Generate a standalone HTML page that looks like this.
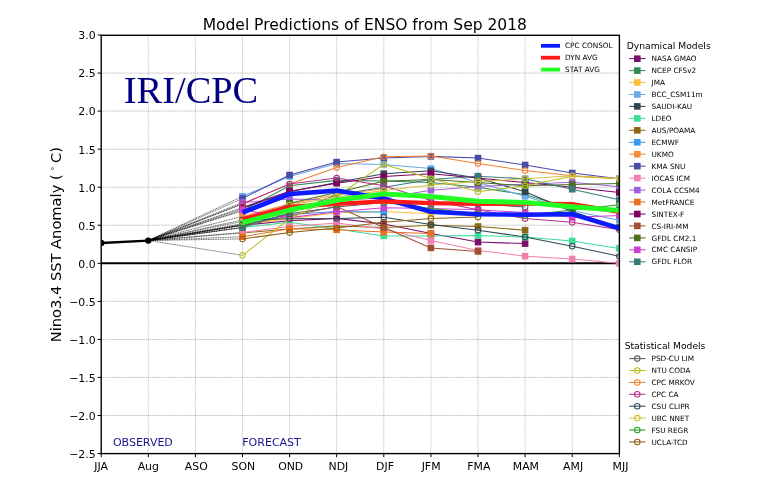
<!DOCTYPE html><html><head><meta charset="utf-8"><title>Model Predictions of ENSO from Sep 2018</title>
<style>html,body{margin:0;padding:0;background:#fff}svg{display:block}text{font-family:"DejaVu Sans","Liberation Sans",sans-serif;fill:#000}.t{font-size:10.9px}.lg{font-size:7.3px}.lt{font-size:9.2px}.nv{fill:#15158f;font-size:11px}</style></head><body>
<svg width="757" height="497" viewBox="0 0 757 497">
<rect width="757" height="497" fill="#fff"/>
<defs><clipPath id="c"><rect x="101.2" y="35.3" width="518.1999999999999" height="418.3"/></clipPath></defs>
<path d="M148.3 35.3V453.6M195.4 35.3V453.6M242.5 35.3V453.6M289.6 35.3V453.6M336.7 35.3V453.6M383.8 35.3V453.6M430.9 35.3V453.6M478.0 35.3V453.6M525.1 35.3V453.6M572.2 35.3V453.6" stroke="#949494" stroke-width="0.45" stroke-dasharray="1.3,0.5" fill="none"/>
<path d="M101.2 415.5H619.4M101.2 377.4H619.4M101.2 339.4H619.4M101.2 301.4H619.4M101.2 225.2H619.4M101.2 187.2H619.4M101.2 149.2H619.4M101.2 111.1H619.4M101.2 73.1H619.4" stroke="#8c8c8c" stroke-width="0.5" stroke-dasharray="1.3,0.5" fill="none"/>
<text x="123.8" y="103.4" style="font-family:'Liberation Serif',serif;font-size:38.4px;fill:#000080">IRI/CPC</text>
<g clip-path="url(#c)">
<path d="M101.2 263.3H619.4" stroke="#000" stroke-width="2.1"/>
<path d="M148.3 240.5L242.5 225.2M148.3 240.5L242.5 210.8M148.3 240.5L242.5 224.5M148.3 240.5L242.5 196.3M148.3 240.5L242.5 208.5M148.3 240.5L242.5 227.5M148.3 240.5L242.5 232.9M148.3 240.5L242.5 225.2M148.3 240.5L242.5 216.3M148.3 240.5L242.5 198.4M148.3 240.5L242.5 232.5M148.3 240.5L242.5 202.4M148.3 240.5L242.5 236.7M148.3 240.5L242.5 207.5M148.3 240.5L242.5 225.2M148.3 240.5L242.5 227.5M148.3 240.5L242.5 210.0M148.3 240.5L242.5 227.5M148.3 240.5L242.5 225.2M148.3 240.5L242.5 255.3M148.3 240.5L242.5 203.9M148.3 240.5L242.5 203.9M148.3 240.5L242.5 219.9M148.3 240.5L242.5 221.4M148.3 240.5L242.5 223.7M148.3 240.5L242.5 238.9" stroke="#000" stroke-width="0.55" stroke-dasharray="1.2,0.5" fill="none"/>
<polyline points="242.5,225.2 289.6,220.7 336.7,218.4 383.8,223.9 430.9,233.6 478.0,242.1 525.1,243.6" fill="none" stroke="#7b0f6e" stroke-width="1.05"/>
<rect x="239.2" y="221.9" width="6.6" height="6.6" fill="#7b0f6e"/>
<rect x="286.3" y="217.4" width="6.6" height="6.6" fill="#7b0f6e"/>
<rect x="333.4" y="215.1" width="6.6" height="6.6" fill="#7b0f6e"/>
<rect x="380.5" y="220.6" width="6.6" height="6.6" fill="#7b0f6e"/>
<rect x="427.6" y="230.3" width="6.6" height="6.6" fill="#7b0f6e"/>
<rect x="474.7" y="238.8" width="6.6" height="6.6" fill="#7b0f6e"/>
<rect x="521.8" y="240.3" width="6.6" height="6.6" fill="#7b0f6e"/>
<polyline points="242.5,210.8 289.6,185.8 336.7,180.4 383.8,181.1 430.9,182.6 478.0,187.2 525.1,194.8 572.2,208.5 619.3,210.0" fill="none" stroke="#2e8b57" stroke-width="1.05"/>
<rect x="239.2" y="207.5" width="6.6" height="6.6" fill="#2e8b57"/>
<rect x="286.3" y="182.5" width="6.6" height="6.6" fill="#2e8b57"/>
<rect x="333.4" y="177.1" width="6.6" height="6.6" fill="#2e8b57"/>
<rect x="380.5" y="177.8" width="6.6" height="6.6" fill="#2e8b57"/>
<rect x="427.6" y="179.3" width="6.6" height="6.6" fill="#2e8b57"/>
<rect x="474.7" y="183.9" width="6.6" height="6.6" fill="#2e8b57"/>
<rect x="521.8" y="191.5" width="6.6" height="6.6" fill="#2e8b57"/>
<rect x="568.9" y="205.2" width="6.6" height="6.6" fill="#2e8b57"/>
<rect x="616.0" y="206.7" width="6.6" height="6.6" fill="#2e8b57"/>
<polyline points="242.5,224.5 289.6,218.8 336.7,212.7 383.8,211.6 430.9,213.7" fill="none" stroke="#fbc13c" stroke-width="1.05"/>
<rect x="239.2" y="221.2" width="6.6" height="6.6" fill="#fbc13c"/>
<rect x="286.3" y="215.5" width="6.6" height="6.6" fill="#fbc13c"/>
<rect x="333.4" y="209.4" width="6.6" height="6.6" fill="#fbc13c"/>
<rect x="380.5" y="208.3" width="6.6" height="6.6" fill="#fbc13c"/>
<rect x="427.6" y="210.4" width="6.6" height="6.6" fill="#fbc13c"/>
<polyline points="242.5,196.3 289.6,176.5 336.7,163.6 383.8,164.4 430.9,168.6 478.0,182.6 525.1,196.3 572.2,210.8 619.3,220.3" fill="none" stroke="#6aa8e8" stroke-width="1.05"/>
<rect x="239.2" y="193.0" width="6.6" height="6.6" fill="#6aa8e8"/>
<rect x="286.3" y="173.2" width="6.6" height="6.6" fill="#6aa8e8"/>
<rect x="333.4" y="160.3" width="6.6" height="6.6" fill="#6aa8e8"/>
<rect x="380.5" y="161.1" width="6.6" height="6.6" fill="#6aa8e8"/>
<rect x="427.6" y="165.3" width="6.6" height="6.6" fill="#6aa8e8"/>
<rect x="474.7" y="179.3" width="6.6" height="6.6" fill="#6aa8e8"/>
<rect x="521.8" y="193.0" width="6.6" height="6.6" fill="#6aa8e8"/>
<rect x="568.9" y="207.5" width="6.6" height="6.6" fill="#6aa8e8"/>
<rect x="616.0" y="217.0" width="6.6" height="6.6" fill="#6aa8e8"/>
<polyline points="242.5,208.5 289.6,191.8 336.7,182.6 383.8,173.7 430.9,170.8 478.0,178.1 525.1,191.8 572.2,211.6 619.3,227.5" fill="none" stroke="#2f4550" stroke-width="1.05"/>
<rect x="239.2" y="205.2" width="6.6" height="6.6" fill="#2f4550"/>
<rect x="286.3" y="188.5" width="6.6" height="6.6" fill="#2f4550"/>
<rect x="333.4" y="179.3" width="6.6" height="6.6" fill="#2f4550"/>
<rect x="380.5" y="170.4" width="6.6" height="6.6" fill="#2f4550"/>
<rect x="427.6" y="167.5" width="6.6" height="6.6" fill="#2f4550"/>
<rect x="474.7" y="174.8" width="6.6" height="6.6" fill="#2f4550"/>
<rect x="521.8" y="188.5" width="6.6" height="6.6" fill="#2f4550"/>
<rect x="568.9" y="208.3" width="6.6" height="6.6" fill="#2f4550"/>
<rect x="616.0" y="224.2" width="6.6" height="6.6" fill="#2f4550"/>
<polyline points="242.5,227.5 289.6,222.2 336.7,229.1 383.8,235.9 430.9,235.9 478.0,235.5 525.1,237.0 572.2,241.0 619.3,248.4" fill="none" stroke="#3ddc97" stroke-width="1.05"/>
<rect x="239.2" y="224.2" width="6.6" height="6.6" fill="#3ddc97"/>
<rect x="286.3" y="218.9" width="6.6" height="6.6" fill="#3ddc97"/>
<rect x="333.4" y="225.8" width="6.6" height="6.6" fill="#3ddc97"/>
<rect x="380.5" y="232.6" width="6.6" height="6.6" fill="#3ddc97"/>
<rect x="427.6" y="232.6" width="6.6" height="6.6" fill="#3ddc97"/>
<rect x="474.7" y="232.2" width="6.6" height="6.6" fill="#3ddc97"/>
<rect x="521.8" y="233.7" width="6.6" height="6.6" fill="#3ddc97"/>
<rect x="568.9" y="237.7" width="6.6" height="6.6" fill="#3ddc97"/>
<rect x="616.0" y="245.1" width="6.6" height="6.6" fill="#3ddc97"/>
<polyline points="242.5,232.9 289.6,229.1 336.7,226.0 383.8,227.5 430.9,225.2 478.0,226.5 525.1,230.2" fill="none" stroke="#8b6914" stroke-width="1.05"/>
<rect x="239.2" y="229.6" width="6.6" height="6.6" fill="#8b6914"/>
<rect x="286.3" y="225.8" width="6.6" height="6.6" fill="#8b6914"/>
<rect x="333.4" y="222.7" width="6.6" height="6.6" fill="#8b6914"/>
<rect x="380.5" y="224.2" width="6.6" height="6.6" fill="#8b6914"/>
<rect x="427.6" y="221.9" width="6.6" height="6.6" fill="#8b6914"/>
<rect x="474.7" y="223.2" width="6.6" height="6.6" fill="#8b6914"/>
<rect x="521.8" y="226.9" width="6.6" height="6.6" fill="#8b6914"/>
<polyline points="242.5,225.2 289.6,214.6 336.7,211.6 383.8,211.9" fill="none" stroke="#3a9bf0" stroke-width="1.05"/>
<rect x="239.2" y="221.9" width="6.6" height="6.6" fill="#3a9bf0"/>
<rect x="286.3" y="211.3" width="6.6" height="6.6" fill="#3a9bf0"/>
<rect x="333.4" y="208.3" width="6.6" height="6.6" fill="#3a9bf0"/>
<rect x="380.5" y="208.6" width="6.6" height="6.6" fill="#3a9bf0"/>
<polyline points="242.5,216.3 289.6,203.9 336.7,194.8 383.8,188.7" fill="none" stroke="#f09040" stroke-width="1.05"/>
<rect x="239.2" y="213.0" width="6.6" height="6.6" fill="#f09040"/>
<rect x="286.3" y="200.6" width="6.6" height="6.6" fill="#f09040"/>
<rect x="333.4" y="191.5" width="6.6" height="6.6" fill="#f09040"/>
<rect x="380.5" y="185.4" width="6.6" height="6.6" fill="#f09040"/>
<polyline points="242.5,198.4 289.6,175.0 336.7,162.1 383.8,157.9 430.9,156.4 478.0,158.1 525.1,165.0 572.2,173.0 619.3,178.8" fill="none" stroke="#4b4ba8" stroke-width="1.05"/>
<rect x="239.2" y="195.1" width="6.6" height="6.6" fill="#4b4ba8"/>
<rect x="286.3" y="171.7" width="6.6" height="6.6" fill="#4b4ba8"/>
<rect x="333.4" y="158.8" width="6.6" height="6.6" fill="#4b4ba8"/>
<rect x="380.5" y="154.6" width="6.6" height="6.6" fill="#4b4ba8"/>
<rect x="427.6" y="153.1" width="6.6" height="6.6" fill="#4b4ba8"/>
<rect x="474.7" y="154.8" width="6.6" height="6.6" fill="#4b4ba8"/>
<rect x="521.8" y="161.7" width="6.6" height="6.6" fill="#4b4ba8"/>
<rect x="568.9" y="169.7" width="6.6" height="6.6" fill="#4b4ba8"/>
<rect x="616.0" y="175.5" width="6.6" height="6.6" fill="#4b4ba8"/>
<polyline points="242.5,232.5 289.6,226.4 336.7,223.0 383.8,229.1 430.9,240.5 478.0,250.4 525.1,256.2 572.2,259.0 619.3,263.3" fill="none" stroke="#f080b0" stroke-width="1.05"/>
<rect x="239.2" y="229.2" width="6.6" height="6.6" fill="#f080b0"/>
<rect x="286.3" y="223.1" width="6.6" height="6.6" fill="#f080b0"/>
<rect x="333.4" y="219.7" width="6.6" height="6.6" fill="#f080b0"/>
<rect x="380.5" y="225.8" width="6.6" height="6.6" fill="#f080b0"/>
<rect x="427.6" y="237.2" width="6.6" height="6.6" fill="#f080b0"/>
<rect x="474.7" y="247.1" width="6.6" height="6.6" fill="#f080b0"/>
<rect x="521.8" y="252.9" width="6.6" height="6.6" fill="#f080b0"/>
<rect x="568.9" y="255.7" width="6.6" height="6.6" fill="#f080b0"/>
<rect x="616.0" y="260.0" width="6.6" height="6.6" fill="#f080b0"/>
<polyline points="242.5,202.4 289.6,199.0 336.7,200.1 383.8,197.9 430.9,190.2 478.0,186.4 525.1,184.2 572.2,182.3 619.3,186.8" fill="none" stroke="#a060e0" stroke-width="1.05"/>
<rect x="239.2" y="199.1" width="6.6" height="6.6" fill="#a060e0"/>
<rect x="286.3" y="195.7" width="6.6" height="6.6" fill="#a060e0"/>
<rect x="333.4" y="196.8" width="6.6" height="6.6" fill="#a060e0"/>
<rect x="380.5" y="194.6" width="6.6" height="6.6" fill="#a060e0"/>
<rect x="427.6" y="186.9" width="6.6" height="6.6" fill="#a060e0"/>
<rect x="474.7" y="183.1" width="6.6" height="6.6" fill="#a060e0"/>
<rect x="521.8" y="180.9" width="6.6" height="6.6" fill="#a060e0"/>
<rect x="568.9" y="179.0" width="6.6" height="6.6" fill="#a060e0"/>
<rect x="616.0" y="183.5" width="6.6" height="6.6" fill="#a060e0"/>
<polyline points="242.5,236.7 289.6,228.8 336.7,229.8 383.8,232.1 430.9,233.5" fill="none" stroke="#e87020" stroke-width="1.05"/>
<rect x="239.2" y="233.4" width="6.6" height="6.6" fill="#e87020"/>
<rect x="286.3" y="225.5" width="6.6" height="6.6" fill="#e87020"/>
<rect x="333.4" y="226.5" width="6.6" height="6.6" fill="#e87020"/>
<rect x="380.5" y="228.8" width="6.6" height="6.6" fill="#e87020"/>
<rect x="427.6" y="230.2" width="6.6" height="6.6" fill="#e87020"/>
<polyline points="242.5,207.5 289.6,191.3 336.7,183.2 383.8,176.6 430.9,173.7 478.0,178.1 525.1,182.6 572.2,187.2 619.3,192.5" fill="none" stroke="#800060" stroke-width="1.05"/>
<rect x="239.2" y="204.2" width="6.6" height="6.6" fill="#800060"/>
<rect x="286.3" y="188.0" width="6.6" height="6.6" fill="#800060"/>
<rect x="333.4" y="179.9" width="6.6" height="6.6" fill="#800060"/>
<rect x="380.5" y="173.3" width="6.6" height="6.6" fill="#800060"/>
<rect x="427.6" y="170.4" width="6.6" height="6.6" fill="#800060"/>
<rect x="474.7" y="174.8" width="6.6" height="6.6" fill="#800060"/>
<rect x="521.8" y="179.3" width="6.6" height="6.6" fill="#800060"/>
<rect x="568.9" y="183.9" width="6.6" height="6.6" fill="#800060"/>
<rect x="616.0" y="189.2" width="6.6" height="6.6" fill="#800060"/>
<polyline points="242.5,225.2 289.6,216.1 336.7,206.6 383.8,227.5 430.9,247.9 478.0,251.4" fill="none" stroke="#a05030" stroke-width="1.05"/>
<rect x="239.2" y="221.9" width="6.6" height="6.6" fill="#a05030"/>
<rect x="286.3" y="212.8" width="6.6" height="6.6" fill="#a05030"/>
<rect x="333.4" y="203.3" width="6.6" height="6.6" fill="#a05030"/>
<rect x="380.5" y="224.2" width="6.6" height="6.6" fill="#a05030"/>
<rect x="427.6" y="244.6" width="6.6" height="6.6" fill="#a05030"/>
<rect x="474.7" y="248.1" width="6.6" height="6.6" fill="#a05030"/>
<polyline points="242.5,227.5 289.6,203.2 336.7,192.5 383.8,181.2 430.9,179.6 478.0,182.6 525.1,185.7 572.2,184.6 619.3,183.4" fill="none" stroke="#4a7020" stroke-width="1.05"/>
<rect x="239.2" y="224.2" width="6.6" height="6.6" fill="#4a7020"/>
<rect x="286.3" y="199.9" width="6.6" height="6.6" fill="#4a7020"/>
<rect x="333.4" y="189.2" width="6.6" height="6.6" fill="#4a7020"/>
<rect x="380.5" y="177.9" width="6.6" height="6.6" fill="#4a7020"/>
<rect x="427.6" y="176.3" width="6.6" height="6.6" fill="#4a7020"/>
<rect x="474.7" y="179.3" width="6.6" height="6.6" fill="#4a7020"/>
<rect x="521.8" y="182.4" width="6.6" height="6.6" fill="#4a7020"/>
<rect x="568.9" y="181.3" width="6.6" height="6.6" fill="#4a7020"/>
<rect x="616.0" y="180.1" width="6.6" height="6.6" fill="#4a7020"/>
<polyline points="242.5,210.0 289.6,217.6 336.7,211.7 383.8,207.7 430.9,208.5 478.0,209.8 525.1,212.6 572.2,217.3 619.3,215.4" fill="none" stroke="#d040d0" stroke-width="1.05"/>
<rect x="239.2" y="206.7" width="6.6" height="6.6" fill="#d040d0"/>
<rect x="286.3" y="214.3" width="6.6" height="6.6" fill="#d040d0"/>
<rect x="333.4" y="208.4" width="6.6" height="6.6" fill="#d040d0"/>
<rect x="380.5" y="204.4" width="6.6" height="6.6" fill="#d040d0"/>
<rect x="427.6" y="205.2" width="6.6" height="6.6" fill="#d040d0"/>
<rect x="474.7" y="206.5" width="6.6" height="6.6" fill="#d040d0"/>
<rect x="521.8" y="209.3" width="6.6" height="6.6" fill="#d040d0"/>
<rect x="568.9" y="214.0" width="6.6" height="6.6" fill="#d040d0"/>
<rect x="616.0" y="212.1" width="6.6" height="6.6" fill="#d040d0"/>
<polyline points="242.5,227.5 289.6,213.1 336.7,194.8 383.8,187.2 430.9,179.6 478.0,176.2 525.1,178.8 572.2,189.2 619.3,199.7" fill="none" stroke="#3a7a78" stroke-width="1.05"/>
<rect x="239.2" y="224.2" width="6.6" height="6.6" fill="#3a7a78"/>
<rect x="286.3" y="209.8" width="6.6" height="6.6" fill="#3a7a78"/>
<rect x="333.4" y="191.5" width="6.6" height="6.6" fill="#3a7a78"/>
<rect x="380.5" y="183.9" width="6.6" height="6.6" fill="#3a7a78"/>
<rect x="427.6" y="176.3" width="6.6" height="6.6" fill="#3a7a78"/>
<rect x="474.7" y="172.9" width="6.6" height="6.6" fill="#3a7a78"/>
<rect x="521.8" y="175.5" width="6.6" height="6.6" fill="#3a7a78"/>
<rect x="568.9" y="185.9" width="6.6" height="6.6" fill="#3a7a78"/>
<rect x="616.0" y="196.4" width="6.6" height="6.6" fill="#3a7a78"/>
<polyline points="242.5,225.2 289.6,213.8 336.7,207.0 383.8,202.4 430.9,202.4 478.0,203.9 525.1,207.0" fill="none" stroke="#5c5c60" stroke-width="1.05"/>
<circle cx="242.5" cy="225.2" r="2.75" fill="none" stroke="#5c5c60" stroke-width="1.05"/>
<circle cx="289.6" cy="213.8" r="2.75" fill="none" stroke="#5c5c60" stroke-width="1.05"/>
<circle cx="336.7" cy="207.0" r="2.75" fill="none" stroke="#5c5c60" stroke-width="1.05"/>
<circle cx="383.8" cy="202.4" r="2.75" fill="none" stroke="#5c5c60" stroke-width="1.05"/>
<circle cx="430.9" cy="202.4" r="2.75" fill="none" stroke="#5c5c60" stroke-width="1.05"/>
<circle cx="478.0" cy="203.9" r="2.75" fill="none" stroke="#5c5c60" stroke-width="1.05"/>
<circle cx="525.1" cy="207.0" r="2.75" fill="none" stroke="#5c5c60" stroke-width="1.05"/>
<polyline points="242.5,255.3 289.6,218.8 336.7,196.3 383.8,164.4 430.9,178.6 478.0,191.8 525.1,185.8 572.2,176.2 619.3,178.8" fill="none" stroke="#b8bd28" stroke-width="1.05"/>
<circle cx="242.5" cy="255.3" r="2.75" fill="none" stroke="#b8bd28" stroke-width="1.05"/>
<circle cx="289.6" cy="218.8" r="2.75" fill="none" stroke="#b8bd28" stroke-width="1.05"/>
<circle cx="336.7" cy="196.3" r="2.75" fill="none" stroke="#b8bd28" stroke-width="1.05"/>
<circle cx="383.8" cy="164.4" r="2.75" fill="none" stroke="#b8bd28" stroke-width="1.05"/>
<circle cx="430.9" cy="178.6" r="2.75" fill="none" stroke="#b8bd28" stroke-width="1.05"/>
<circle cx="478.0" cy="191.8" r="2.75" fill="none" stroke="#b8bd28" stroke-width="1.05"/>
<circle cx="525.1" cy="185.8" r="2.75" fill="none" stroke="#b8bd28" stroke-width="1.05"/>
<circle cx="572.2" cy="176.2" r="2.75" fill="none" stroke="#b8bd28" stroke-width="1.05"/>
<circle cx="619.3" cy="178.8" r="2.75" fill="none" stroke="#b8bd28" stroke-width="1.05"/>
<polyline points="242.5,203.9 289.6,183.9 336.7,167.6 383.8,156.8 430.9,156.0 478.0,163.5 525.1,170.5 572.2,175.8 619.3,178.8" fill="none" stroke="#f08030" stroke-width="1.05"/>
<circle cx="242.5" cy="203.9" r="2.75" fill="none" stroke="#f08030" stroke-width="1.05"/>
<circle cx="289.6" cy="183.9" r="2.75" fill="none" stroke="#f08030" stroke-width="1.05"/>
<circle cx="336.7" cy="167.6" r="2.75" fill="none" stroke="#f08030" stroke-width="1.05"/>
<circle cx="383.8" cy="156.8" r="2.75" fill="none" stroke="#f08030" stroke-width="1.05"/>
<circle cx="430.9" cy="156.0" r="2.75" fill="none" stroke="#f08030" stroke-width="1.05"/>
<circle cx="478.0" cy="163.5" r="2.75" fill="none" stroke="#f08030" stroke-width="1.05"/>
<circle cx="525.1" cy="170.5" r="2.75" fill="none" stroke="#f08030" stroke-width="1.05"/>
<circle cx="572.2" cy="175.8" r="2.75" fill="none" stroke="#f08030" stroke-width="1.05"/>
<circle cx="619.3" cy="178.8" r="2.75" fill="none" stroke="#f08030" stroke-width="1.05"/>
<polyline points="242.5,203.9 289.6,183.9 336.7,178.1 383.8,185.7 430.9,200.6 478.0,209.8 525.1,218.6 572.2,222.3 619.3,229.8" fill="none" stroke="#b8308c" stroke-width="1.05"/>
<circle cx="242.5" cy="203.9" r="2.75" fill="none" stroke="#b8308c" stroke-width="1.05"/>
<circle cx="289.6" cy="183.9" r="2.75" fill="none" stroke="#b8308c" stroke-width="1.05"/>
<circle cx="336.7" cy="178.1" r="2.75" fill="none" stroke="#b8308c" stroke-width="1.05"/>
<circle cx="383.8" cy="185.7" r="2.75" fill="none" stroke="#b8308c" stroke-width="1.05"/>
<circle cx="430.9" cy="200.6" r="2.75" fill="none" stroke="#b8308c" stroke-width="1.05"/>
<circle cx="478.0" cy="209.8" r="2.75" fill="none" stroke="#b8308c" stroke-width="1.05"/>
<circle cx="525.1" cy="218.6" r="2.75" fill="none" stroke="#b8308c" stroke-width="1.05"/>
<circle cx="572.2" cy="222.3" r="2.75" fill="none" stroke="#b8308c" stroke-width="1.05"/>
<circle cx="619.3" cy="229.8" r="2.75" fill="none" stroke="#b8308c" stroke-width="1.05"/>
<polyline points="242.5,219.9 289.6,218.8 336.7,218.4 383.8,217.3 430.9,224.6 478.0,230.3 525.1,237.0 572.2,246.3 619.3,256.2" fill="none" stroke="#2f4858" stroke-width="1.05"/>
<circle cx="242.5" cy="219.9" r="2.75" fill="none" stroke="#2f4858" stroke-width="1.05"/>
<circle cx="289.6" cy="218.8" r="2.75" fill="none" stroke="#2f4858" stroke-width="1.05"/>
<circle cx="336.7" cy="218.4" r="2.75" fill="none" stroke="#2f4858" stroke-width="1.05"/>
<circle cx="383.8" cy="217.3" r="2.75" fill="none" stroke="#2f4858" stroke-width="1.05"/>
<circle cx="430.9" cy="224.6" r="2.75" fill="none" stroke="#2f4858" stroke-width="1.05"/>
<circle cx="478.0" cy="230.3" r="2.75" fill="none" stroke="#2f4858" stroke-width="1.05"/>
<circle cx="525.1" cy="237.0" r="2.75" fill="none" stroke="#2f4858" stroke-width="1.05"/>
<circle cx="572.2" cy="246.3" r="2.75" fill="none" stroke="#2f4858" stroke-width="1.05"/>
<circle cx="619.3" cy="256.2" r="2.75" fill="none" stroke="#2f4858" stroke-width="1.05"/>
<polyline points="242.5,221.4 289.6,204.9 336.7,197.1 383.8,190.4 430.9,185.1 478.0,181.6 525.1,178.8 572.2,175.8 619.3,178.8" fill="none" stroke="#d2c23c" stroke-width="1.05"/>
<circle cx="242.5" cy="221.4" r="2.75" fill="none" stroke="#d2c23c" stroke-width="1.05"/>
<circle cx="289.6" cy="204.9" r="2.75" fill="none" stroke="#d2c23c" stroke-width="1.05"/>
<circle cx="336.7" cy="197.1" r="2.75" fill="none" stroke="#d2c23c" stroke-width="1.05"/>
<circle cx="383.8" cy="190.4" r="2.75" fill="none" stroke="#d2c23c" stroke-width="1.05"/>
<circle cx="430.9" cy="185.1" r="2.75" fill="none" stroke="#d2c23c" stroke-width="1.05"/>
<circle cx="478.0" cy="181.6" r="2.75" fill="none" stroke="#d2c23c" stroke-width="1.05"/>
<circle cx="525.1" cy="178.8" r="2.75" fill="none" stroke="#d2c23c" stroke-width="1.05"/>
<circle cx="572.2" cy="175.8" r="2.75" fill="none" stroke="#d2c23c" stroke-width="1.05"/>
<circle cx="619.3" cy="178.8" r="2.75" fill="none" stroke="#d2c23c" stroke-width="1.05"/>
<polyline points="242.5,223.7 289.6,210.0 336.7,203.9 383.8,202.4 430.9,208.5 478.0,213.8 525.1,215.4 572.2,210.0 619.3,204.7" fill="none" stroke="#20a020" stroke-width="1.05"/>
<circle cx="242.5" cy="223.7" r="2.75" fill="none" stroke="#20a020" stroke-width="1.05"/>
<circle cx="289.6" cy="210.0" r="2.75" fill="none" stroke="#20a020" stroke-width="1.05"/>
<circle cx="336.7" cy="203.9" r="2.75" fill="none" stroke="#20a020" stroke-width="1.05"/>
<circle cx="383.8" cy="202.4" r="2.75" fill="none" stroke="#20a020" stroke-width="1.05"/>
<circle cx="430.9" cy="208.5" r="2.75" fill="none" stroke="#20a020" stroke-width="1.05"/>
<circle cx="478.0" cy="213.8" r="2.75" fill="none" stroke="#20a020" stroke-width="1.05"/>
<circle cx="525.1" cy="215.4" r="2.75" fill="none" stroke="#20a020" stroke-width="1.05"/>
<circle cx="572.2" cy="210.0" r="2.75" fill="none" stroke="#20a020" stroke-width="1.05"/>
<circle cx="619.3" cy="204.7" r="2.75" fill="none" stroke="#20a020" stroke-width="1.05"/>
<polyline points="242.5,238.9 289.6,232.6 336.7,228.1 383.8,222.2 430.9,218.4 478.0,217.1" fill="none" stroke="#8b6010" stroke-width="1.05"/>
<circle cx="242.5" cy="238.9" r="2.75" fill="none" stroke="#8b6010" stroke-width="1.05"/>
<circle cx="289.6" cy="232.6" r="2.75" fill="none" stroke="#8b6010" stroke-width="1.05"/>
<circle cx="336.7" cy="228.1" r="2.75" fill="none" stroke="#8b6010" stroke-width="1.05"/>
<circle cx="383.8" cy="222.2" r="2.75" fill="none" stroke="#8b6010" stroke-width="1.05"/>
<circle cx="430.9" cy="218.4" r="2.75" fill="none" stroke="#8b6010" stroke-width="1.05"/>
<circle cx="478.0" cy="217.1" r="2.75" fill="none" stroke="#8b6010" stroke-width="1.05"/>
<polyline points="242.5,212.5 289.6,194.0 336.7,190.6 383.8,198.6 430.9,211.8 478.0,214.2 525.1,214.7 572.2,214.1 619.3,228.3" fill="none" stroke="#0c1cff" stroke-width="4.6" stroke-linejoin="round"/>
<polyline points="242.5,219.2 289.6,206.8 336.7,203.9 383.8,201.4 430.9,203.2 478.0,203.8 525.1,203.7 572.2,204.2 619.3,211.9" fill="none" stroke="#ff1a1a" stroke-width="4.3" stroke-linejoin="round"/>
<polyline points="242.5,222.6 289.6,210.0 336.7,200.3 383.8,193.9 430.9,196.5 478.0,201.3 525.1,202.4 572.2,206.8 619.3,210.4" fill="none" stroke="#22ff22" stroke-width="4.9" stroke-linejoin="round"/>
<polyline points="101.2,243.0 148.3,240.6" fill="none" stroke="#000" stroke-width="2.3"/>
<circle cx="101.2" cy="243.0" r="3.2"/><circle cx="148.3" cy="240.6" r="3.2"/>
</g>
<rect x="101.2" y="35.3" width="518.2" height="418.3" fill="none" stroke="#000" stroke-width="1.4"/>
<path d="M101.2 453.6v3.6M148.3 453.6v3.6M195.4 453.6v3.6M242.5 453.6v3.6M289.6 453.6v3.6M336.7 453.6v3.6M383.8 453.6v3.6M430.9 453.6v3.6M478.0 453.6v3.6M525.1 453.6v3.6M572.2 453.6v3.6M619.3 453.6v3.6M101.2 453.6h-3.6M101.2 415.5h-3.6M101.2 377.4h-3.6M101.2 339.4h-3.6M101.2 301.4h-3.6M101.2 263.3h-3.6M101.2 225.2h-3.6M101.2 187.2h-3.6M101.2 149.2h-3.6M101.2 111.1h-3.6M101.2 73.1h-3.6M101.2 35.0h-3.6" stroke="#000" stroke-width="1"/>
<text class="t" x="101.2" y="469.5" text-anchor="middle">JJA</text>
<text class="t" x="148.3" y="469.5" text-anchor="middle">Aug</text>
<text class="t" x="196.3" y="469.5" text-anchor="middle">ASO</text>
<text class="t" x="243.3" y="469.5" text-anchor="middle">SON</text>
<text class="t" x="290.7" y="469.5" text-anchor="middle">OND</text>
<text class="t" x="338.4" y="469.5" text-anchor="middle">NDJ</text>
<text class="t" x="385.0" y="469.5" text-anchor="middle">DJF</text>
<text class="t" x="431.1" y="469.5" text-anchor="middle">JFM</text>
<text class="t" x="478.8" y="469.5" text-anchor="middle">FMA</text>
<text class="t" x="525.9" y="469.5" text-anchor="middle">MAM</text>
<text class="t" x="573.1" y="469.5" text-anchor="middle">AMJ</text>
<text class="t" x="620.5" y="469.5" text-anchor="middle">MJJ</text>
<text class="t" x="95.6" y="457.9" text-anchor="end">−2.5</text>
<text class="t" x="95.6" y="419.8" text-anchor="end">−2.0</text>
<text class="t" x="95.6" y="381.8" text-anchor="end">−1.5</text>
<text class="t" x="95.6" y="343.7" text-anchor="end">−1.0</text>
<text class="t" x="95.6" y="305.7" text-anchor="end">−0.5</text>
<text class="t" x="95.6" y="267.6" text-anchor="end">0.0</text>
<text class="t" x="95.6" y="229.6" text-anchor="end">0.5</text>
<text class="t" x="95.6" y="191.5" text-anchor="end">1.0</text>
<text class="t" x="95.6" y="153.5" text-anchor="end">1.5</text>
<text class="t" x="95.6" y="115.4" text-anchor="end">2.0</text>
<text class="t" x="95.6" y="77.4" text-anchor="end">2.5</text>
<text class="t" x="95.6" y="39.3" text-anchor="end">3.0</text>
<text x="364.8" y="29.5" text-anchor="middle" style="font-size:15.5px">Model Predictions of ENSO from Sep 2018</text>
<text transform="translate(61.1,244.7) rotate(-90)" text-anchor="middle" style="font-size:14.65px">Nino3.4 SST Anomaly ( <tspan dx="-0.8" dy="-4.6" style="font-size:7.6px">°</tspan><tspan dx="3.6" dy="4.6">C)</tspan></text>
<text class="nv" x="112.9" y="446.2">OBSERVED</text>
<text class="nv" x="242.3" y="446.2">FORECAST</text>
<path d="M541 45.8H560" stroke="#0c1cff" stroke-width="3.8"/>
<text class="lg" x="565" y="48.4">CPC CONSOL</text>
<path d="M541 57.7H560" stroke="#ff1a1a" stroke-width="3.8"/>
<text class="lg" x="565" y="60.3">DYN AVG</text>
<path d="M541 69.6H560" stroke="#22ff22" stroke-width="3.8"/>
<text class="lg" x="565" y="72.2">STAT AVG</text>
<text class="lt" x="626.7" y="49">Dynamical Models</text>
<path d="M629.1 58.6H645.5" stroke="#7b0f6e" stroke-width="1.05"/>
<rect x="634.0" y="55.4" width="6.6" height="6.6" fill="#7b0f6e"/>
<text class="lg" x="651.5" y="61.2">NASA GMAO</text>
<path d="M629.1 70.6H645.5" stroke="#2e8b57" stroke-width="1.05"/>
<rect x="634.0" y="67.3" width="6.6" height="6.6" fill="#2e8b57"/>
<text class="lg" x="651.5" y="73.2">NCEP CFSv2</text>
<path d="M629.1 82.5H645.5" stroke="#fbc13c" stroke-width="1.05"/>
<rect x="634.0" y="79.2" width="6.6" height="6.6" fill="#fbc13c"/>
<text class="lg" x="651.5" y="85.1">JMA</text>
<path d="M629.1 94.5H645.5" stroke="#6aa8e8" stroke-width="1.05"/>
<rect x="634.0" y="91.2" width="6.6" height="6.6" fill="#6aa8e8"/>
<text class="lg" x="651.5" y="97.1">BCC_CSM11m</text>
<path d="M629.1 106.4H645.5" stroke="#2f4550" stroke-width="1.05"/>
<rect x="634.0" y="103.1" width="6.6" height="6.6" fill="#2f4550"/>
<text class="lg" x="651.5" y="109.0">SAUDI-KAU</text>
<path d="M629.1 118.4H645.5" stroke="#3ddc97" stroke-width="1.05"/>
<rect x="634.0" y="115.1" width="6.6" height="6.6" fill="#3ddc97"/>
<text class="lg" x="651.5" y="121.0">LDEO</text>
<path d="M629.1 130.3H645.5" stroke="#8b6914" stroke-width="1.05"/>
<rect x="634.0" y="127.0" width="6.6" height="6.6" fill="#8b6914"/>
<text class="lg" x="651.5" y="132.9">AUS/POAMA</text>
<path d="M629.1 142.3H645.5" stroke="#3a9bf0" stroke-width="1.05"/>
<rect x="634.0" y="139.0" width="6.6" height="6.6" fill="#3a9bf0"/>
<text class="lg" x="651.5" y="144.9">ECMWF</text>
<path d="M629.1 154.2H645.5" stroke="#f09040" stroke-width="1.05"/>
<rect x="634.0" y="150.9" width="6.6" height="6.6" fill="#f09040"/>
<text class="lg" x="651.5" y="156.8">UKMO</text>
<path d="M629.1 166.2H645.5" stroke="#4b4ba8" stroke-width="1.05"/>
<rect x="634.0" y="162.9" width="6.6" height="6.6" fill="#4b4ba8"/>
<text class="lg" x="651.5" y="168.8">KMA SNU</text>
<path d="M629.1 178.2H645.5" stroke="#f080b0" stroke-width="1.05"/>
<rect x="634.0" y="174.8" width="6.6" height="6.6" fill="#f080b0"/>
<text class="lg" x="651.5" y="180.8">IOCAS ICM</text>
<path d="M629.1 190.1H645.5" stroke="#a060e0" stroke-width="1.05"/>
<rect x="634.0" y="186.8" width="6.6" height="6.6" fill="#a060e0"/>
<text class="lg" x="651.5" y="192.7">COLA CCSM4</text>
<path d="M629.1 202.0H645.5" stroke="#e87020" stroke-width="1.05"/>
<rect x="634.0" y="198.7" width="6.6" height="6.6" fill="#e87020"/>
<text class="lg" x="651.5" y="204.6">MetFRANCE</text>
<path d="M629.1 214.0H645.5" stroke="#800060" stroke-width="1.05"/>
<rect x="634.0" y="210.7" width="6.6" height="6.6" fill="#800060"/>
<text class="lg" x="651.5" y="216.6">SINTEX-F</text>
<path d="M629.1 225.9H645.5" stroke="#a05030" stroke-width="1.05"/>
<rect x="634.0" y="222.6" width="6.6" height="6.6" fill="#a05030"/>
<text class="lg" x="651.5" y="228.5">CS-IRI-MM</text>
<path d="M629.1 237.9H645.5" stroke="#4a7020" stroke-width="1.05"/>
<rect x="634.0" y="234.6" width="6.6" height="6.6" fill="#4a7020"/>
<text class="lg" x="651.5" y="240.5">GFDL CM2.1</text>
<path d="M629.1 249.8H645.5" stroke="#d040d0" stroke-width="1.05"/>
<rect x="634.0" y="246.5" width="6.6" height="6.6" fill="#d040d0"/>
<text class="lg" x="651.5" y="252.4">CMC CANSIP</text>
<path d="M629.1 261.8H645.5" stroke="#3a7a78" stroke-width="1.05"/>
<rect x="634.0" y="258.5" width="6.6" height="6.6" fill="#3a7a78"/>
<text class="lg" x="651.5" y="264.4">GFDL FLOR</text>
<text class="lt" x="624.7" y="349.3">Statistical Models</text>
<path d="M629.1 358.6H645.5" stroke="#5c5c60" stroke-width="1.05"/>
<circle cx="637.3" cy="358.6" r="2.75" fill="#fff" fill-opacity="0" stroke="#5c5c60" stroke-width="1.05"/>
<text class="lg" x="651.5" y="361.2">PSD-CU LIM</text>
<path d="M629.1 370.5H645.5" stroke="#b8bd28" stroke-width="1.05"/>
<circle cx="637.3" cy="370.5" r="2.75" fill="#fff" fill-opacity="0" stroke="#b8bd28" stroke-width="1.05"/>
<text class="lg" x="651.5" y="373.1">NTU CODA</text>
<path d="M629.1 382.4H645.5" stroke="#f08030" stroke-width="1.05"/>
<circle cx="637.3" cy="382.4" r="2.75" fill="#fff" fill-opacity="0" stroke="#f08030" stroke-width="1.05"/>
<text class="lg" x="651.5" y="385.1">CPC MRKOV</text>
<path d="M629.1 394.3H645.5" stroke="#b8308c" stroke-width="1.05"/>
<circle cx="637.3" cy="394.3" r="2.75" fill="#fff" fill-opacity="0" stroke="#b8308c" stroke-width="1.05"/>
<text class="lg" x="651.5" y="396.9">CPC CA</text>
<path d="M629.1 406.2H645.5" stroke="#2f4858" stroke-width="1.05"/>
<circle cx="637.3" cy="406.2" r="2.75" fill="#fff" fill-opacity="0" stroke="#2f4858" stroke-width="1.05"/>
<text class="lg" x="651.5" y="408.9">CSU CLIPR</text>
<path d="M629.1 418.1H645.5" stroke="#d2c23c" stroke-width="1.05"/>
<circle cx="637.3" cy="418.1" r="2.75" fill="#fff" fill-opacity="0" stroke="#d2c23c" stroke-width="1.05"/>
<text class="lg" x="651.5" y="420.8">UBC NNET</text>
<path d="M629.1 430.0H645.5" stroke="#20a020" stroke-width="1.05"/>
<circle cx="637.3" cy="430.0" r="2.75" fill="#fff" fill-opacity="0" stroke="#20a020" stroke-width="1.05"/>
<text class="lg" x="651.5" y="432.6">FSU REGR</text>
<path d="M629.1 441.9H645.5" stroke="#8b6010" stroke-width="1.05"/>
<circle cx="637.3" cy="441.9" r="2.75" fill="#fff" fill-opacity="0" stroke="#8b6010" stroke-width="1.05"/>
<text class="lg" x="651.5" y="444.6">UCLA-TCD</text>
</svg></body></html>
